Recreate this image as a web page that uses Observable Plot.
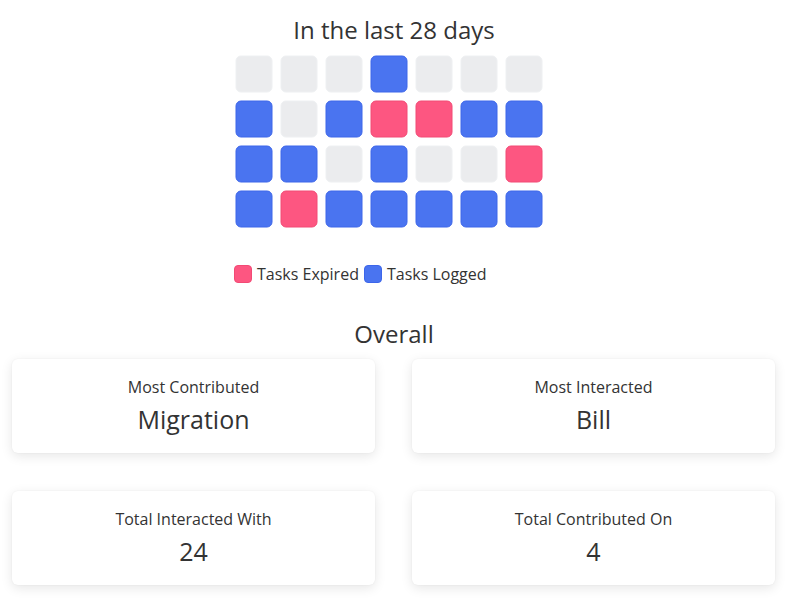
<!DOCTYPE html>
<html>
<head>
<meta charset="utf-8">
<script src="https://cdn.jsdelivr.net/npm/d3@7"></script>
<script src="https://cdn.jsdelivr.net/npm/@observablehq/plot@0.6"></script>
<style>
  html, body { margin: 0; padding: 0; background: #fff; }
  body { width: 788px; height: 600px; position: relative; overflow: hidden;
         font-family: "Source Sans Pro", "Open Sans", "Noto Sans", sans-serif; color: #333; }
  .heading { position: absolute; left: 0; width: 788px; text-align: center; font-size: 24px; line-height: 30px; }
  #grid { position: absolute; left: 0; top: 45px; }
  .legend { position: absolute; top: 263px; left: 234px; display: flex; align-items: center; font-size: 16px; }
  .sw { width: 18px; height: 18px; border-radius: 4px; display: inline-block; margin-right: 5px; box-sizing: border-box; }
  .item { display: flex; align-items: center; margin-right: 5px; }
  .card { position: absolute; width: 363px; height: 94px; background: #fff; border-radius: 6px;
          box-shadow: 0 3px 12px rgba(0,0,0,0.10), 0 0 2px rgba(0,0,0,0.05); text-align: center; }
  .card .lab { position: absolute; top: 17px; left: 0; width: 100%; font-size: 16px; line-height: 22px; }
  .card .val { position: absolute; top: 44px; left: 0; width: 100%; font-size: 25px; line-height: 32px; }
</style>
</head>
<body>
<div class="heading" style="top:15px">In the last 28 days</div>
<div id="grid"></div>
<div class="legend" id="legend"></div>
<div class="heading" style="top:319px">Overall</div>
<div id="cards"></div>
<script>
// Status of each of the last 28 days, read row by row (7 per row)
const statuses = [
  "None","None","None","Logged","None","None","None",
  "Logged","None","Logged","Expired","Expired","Logged","Logged",
  "Logged","Logged","None","Logged","None","None","Expired",
  "Logged","Expired","Logged","Logged","Logged","Logged","Logged"
];
const categories = ["None", "Expired", "Logged"];
const fillColors = ["#ebecee", "#fd5681", "#4a74f0"];
const strokeColors = ["#eef0f2", "#f24a75", "#3d66ea"];
const legendLabels = ["Tasks Expired", "Tasks Logged"];
const legendKeys = ["Expired", "Logged"];

const cardLabels = ["Most Contributed", "Most Interacted", "Total Interacted With", "Total Contributed On"];
const cardValues = ["Migration", "Bill", "24", "4"];

const days = statuses.map((s, i) => ({day: i + 1, col: i % 7, row: Math.floor(i / 7), status: s}));

const strokeOf = s => strokeColors[categories.indexOf(s)];

const chart = Plot.plot({
  width: 788,
  height: 192,
  marginLeft: 224.5,
  marginRight: 235.5,
  marginTop: 0.5,
  marginBottom: 0,
  x: {type: "band", domain: d3.range(7), padding: 0.209, axis: null},
  y: {type: "band", domain: d3.range(4), padding: 0.209, axis: null},
  color: {domain: categories, range: fillColors},
  marks: [
    Plot.cell(days, {x: "col", y: "row", fill: "status", stroke: d => strokeOf(d.status), strokeWidth: 1, rx: 5})
  ]
});
document.getElementById("grid").appendChild(chart);

const legend = document.getElementById("legend");
legendKeys.forEach((k, i) => {
  const idx = categories.indexOf(k);
  const item = document.createElement("div");
  item.className = "item";
  item.innerHTML = `<span class="sw" style="background:${fillColors[idx]};border:1px solid ${strokeColors[idx]}"></span><span>${legendLabels[i]}</span>`;
  legend.appendChild(item);
});

const cardPos = [[12, 359], [412, 359], [12, 491], [412, 491]];
const cards = document.getElementById("cards");
cardLabels.forEach((lab, i) => {
  const c = document.createElement("div");
  c.className = "card";
  c.style.left = cardPos[i][0] + "px";
  c.style.top = cardPos[i][1] + "px";
  c.innerHTML = `<div class="lab">${lab}</div><div class="val">${cardValues[i]}</div>`;
  cards.appendChild(c);
});
</script>
</body>
</html>
